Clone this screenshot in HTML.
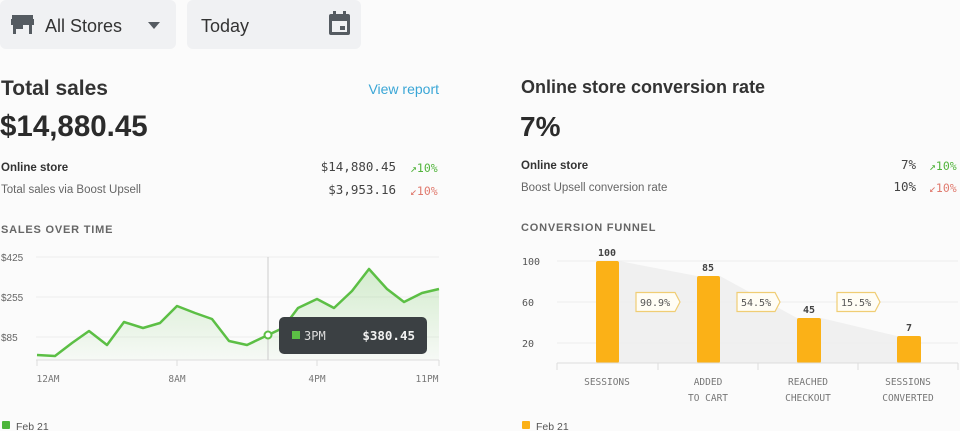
<!DOCTYPE html>
<html><head><meta charset="utf-8"><style>
html,body{margin:0;padding:0;background:#fbfbfb;}
svg{display:block}
.s{font-family:"Liberation Sans",sans-serif}
.m{font-family:"DejaVu Sans Mono","Liberation Mono",monospace}
</style></head><body>
<svg width="960" height="431" viewBox="0 0 960 431" xmlns="http://www.w3.org/2000/svg">
<rect width="960" height="431" fill="#fbfbfb"/>
<rect x="0" y="0" width="176" height="49" rx="6" fill="#f0f1f3"/>
<rect x="187" y="0" width="174" height="49" rx="6" fill="#f0f1f3"/>
<g fill="#555b61">
<rect x="12" y="15" width="21" height="4"/><rect x="11" y="19" width="23" height="6"/>
<rect x="13" y="25" width="3" height="9"/><rect x="16" y="25" width="7" height="4"/><rect x="29" y="25" width="3" height="9"/>
<path d="M148 22 L160 22 L154 29 Z"/>
<rect x="329" y="14" width="21" height="21" rx="2"/>
<rect x="333" y="11" width="3" height="5"/><rect x="343" y="11" width="3" height="5"/>
</g>
<rect x="332" y="21" width="15" height="11" fill="#f0f1f3"/>
<rect x="340" y="26" width="5" height="4" fill="#555b61"/>
<text x="45" y="32" class="s" font-size="18" fill="#333">All Stores</text>
<text x="201" y="32" class="s" font-size="18" fill="#333">Today</text>

<text x="1" y="95" class="s" font-size="21" font-weight="bold" fill="#333">Total sales</text>
<text x="439" y="94" class="s" font-size="14" fill="#3aa6d6" text-anchor="end">View report</text>
<text x="0" y="136" class="s" font-size="29.5" font-weight="bold" fill="#2b2b2b">$14,880.45</text>
<text x="1" y="171" class="s" font-size="11.5" font-weight="bold" fill="#333">Online store</text>
<text x="1" y="193" class="s" font-size="11.5" fill="#666">Total sales via Boost Upsell</text>
<text x="396" y="171" class="m" font-size="12.5" fill="#444" text-anchor="end">$14,880.45</text>
<text x="396" y="194" class="m" font-size="12.5" fill="#444" text-anchor="end">$3,953.16</text>
<text x="410" y="172" class="m" font-size="11.5" fill="#52b43c">↗10%</text>
<text x="410" y="195" class="m" font-size="11.5" fill="#e07a6e">↙10%</text>
<text x="1" y="233" class="s" font-size="11" font-weight="bold" fill="#666" letter-spacing="0.8">SALES OVER TIME</text>

<text x="521" y="93" class="s" font-size="18" font-weight="bold" fill="#333">Online store conversion rate</text>
<text x="520" y="136" class="s" font-size="28" font-weight="bold" fill="#2b2b2b">7%</text>
<text x="521" y="169" class="s" font-size="11.5" font-weight="bold" fill="#333">Online store</text>
<text x="521" y="191" class="s" font-size="11.5" fill="#666">Boost Upsell conversion rate</text>
<text x="916" y="169" class="m" font-size="12.5" fill="#444" text-anchor="end">7%</text>
<text x="916" y="191" class="m" font-size="12.5" fill="#444" text-anchor="end">10%</text>
<text x="929" y="170" class="m" font-size="11.5" fill="#52b43c">↗10%</text>
<text x="929" y="192" class="m" font-size="11.5" fill="#e07a6e">↙10%</text>
<text x="521" y="231" class="s" font-size="11" font-weight="bold" fill="#666" letter-spacing="0.8">CONVERSION FUNNEL</text>

<defs><linearGradient id="g" x1="0" y1="0" x2="0" y2="1"><stop offset="0" stop-color="#5cbf45" stop-opacity="0.25"/><stop offset="1" stop-color="#5cbf45" stop-opacity="0.03"/></linearGradient></defs>
<g stroke="#eeeeee" stroke-width="1">
<line x1="36" y1="257" x2="439" y2="257"/><line x1="36" y1="297" x2="439" y2="297"/><line x1="36" y1="337" x2="439" y2="337"/>
</g>
<g class="s" font-size="10" fill="#666">
<text x="1" y="261">$425</text><text x="1" y="301">$255</text><text x="1" y="341">$85</text>
</g>
<path d="M37,355 L55,356 L72,343 L89,331 L107,345 L124,322 L143,328 L160,323 L177,306 L195,313 L212,319 L229,341 L247,345 L268,335 L283,328 L298,308 L317,299 L334,308 L352,291 L369,269 L387,289 L404,302 L422,293 L439,289 L439,360 L37,360 Z" fill="url(#g)"/>
<line x1="36" y1="360" x2="439" y2="360" stroke="#ddd"/>
<g stroke="#ddd"><line x1="37" y1="360" x2="37" y2="366"/><line x1="177" y1="360" x2="177" y2="366"/><line x1="317" y1="360" x2="317" y2="366"/><line x1="439" y1="360" x2="439" y2="366"/></g>
<line x1="268" y1="257" x2="268" y2="360" stroke="#ccc"/>
<polyline points="37,355 55,356 72,343 89,331 107,345 124,322 143,328 160,323 177,306 195,313 212,319 229,341 247,345 268,335 283,328 298,308 317,299 334,308 352,291 369,269 387,289 404,302 422,293 439,289" fill="none" stroke="#5cbf45" stroke-width="2.5" stroke-linejoin="round"/>
<circle cx="268" cy="335" r="3.5" fill="#fff" stroke="#5cbf45" stroke-width="2"/>
<path d="M279,335 L285,330 L285,340 Z" fill="#3b4043"/>
<rect x="279" y="317" width="148" height="37" rx="5" fill="#3b4043"/>
<rect x="292" y="331" width="8" height="8" fill="#5cbf45"/>
<text x="304" y="340" class="m" font-size="12" fill="#ddd">3PM</text>
<text x="415" y="340" class="m" font-size="12.5" font-weight="bold" fill="#f2f2f2" text-anchor="end">$380.45</text>
<g class="m" font-size="9.5" fill="#777" text-anchor="middle">
<text x="48" y="382">12AM</text><text x="177" y="382">8AM</text><text x="317" y="382">4PM</text><text x="427" y="382">11PM</text>
</g>
<rect x="2" y="421" width="8" height="8" rx="1" fill="#4cb53a"/>
<text x="16" y="430" class="s" font-size="10.5" fill="#555">Feb 21</text>

<g stroke="#eeeeee"><line x1="557" y1="261" x2="958" y2="261"/><line x1="557" y1="302" x2="958" y2="302"/><line x1="557" y1="343" x2="958" y2="343"/></g>
<g class="m" font-size="10" fill="#555"><text x="522" y="265">100</text><text x="522" y="306">60</text><text x="522" y="347">20</text></g>
<path d="M619,261 L697,276 L720,276 L797,318 L821,318 L897,336 L921,336 L921,363 L619,363 Z" fill="#eeeeee" opacity="0.8"/>
<g fill="#fbb117">
<rect x="596" y="261" width="23" height="102" rx="2"/>
<rect x="697" y="276" width="23" height="87" rx="2"/>
<rect x="797" y="318" width="24" height="45" rx="2"/>
<rect x="897" y="336" width="24" height="27" rx="2"/>
</g>
<g class="m" font-size="10" font-weight="bold" fill="#444" text-anchor="middle">
<text x="607" y="256">100</text><text x="708" y="271">85</text><text x="809" y="313">45</text><text x="909" y="331">7</text>
</g>
<g fill="#fffdf5" stroke="#f0cd74" stroke-width="1.2">
<path d="M636,292.5 L675,292.5 L680,302 L675,311.5 L636,311.5 Z"/>
<path d="M737,292.5 L775,292.5 L780,302 L775,311.5 L737,311.5 Z"/>
<path d="M837,292.5 L875,292.5 L880,302 L875,311.5 L837,311.5 Z"/>
</g>
<g class="m" font-size="10" fill="#555"><text x="640" y="306">90.9%</text><text x="741" y="306">54.5%</text><text x="841" y="306">15.5%</text></g>
<line x1="557" y1="363" x2="958" y2="363" stroke="#ddd"/>
<g stroke="#ddd"><line x1="557" y1="363" x2="557" y2="370"/><line x1="658" y1="363" x2="658" y2="370"/><line x1="758" y1="363" x2="758" y2="370"/><line x1="858" y1="363" x2="858" y2="370"/><line x1="958" y1="363" x2="958" y2="370"/></g>
<g class="m" font-size="9.5" fill="#777" text-anchor="middle">
<text x="607" y="385">SESSIONS</text>
<text x="708" y="385">ADDED</text><text x="708" y="401">TO CART</text>
<text x="808" y="385">REACHED</text><text x="808" y="401">CHECKOUT</text>
<text x="908" y="385">SESSIONS</text><text x="908" y="401">CONVERTED</text>
</g>
<rect x="522" y="421" width="8" height="8" rx="1" fill="#fbb117"/>
<text x="536" y="430" class="s" font-size="10.5" fill="#555">Feb 21</text>
</svg>
</body></html>
